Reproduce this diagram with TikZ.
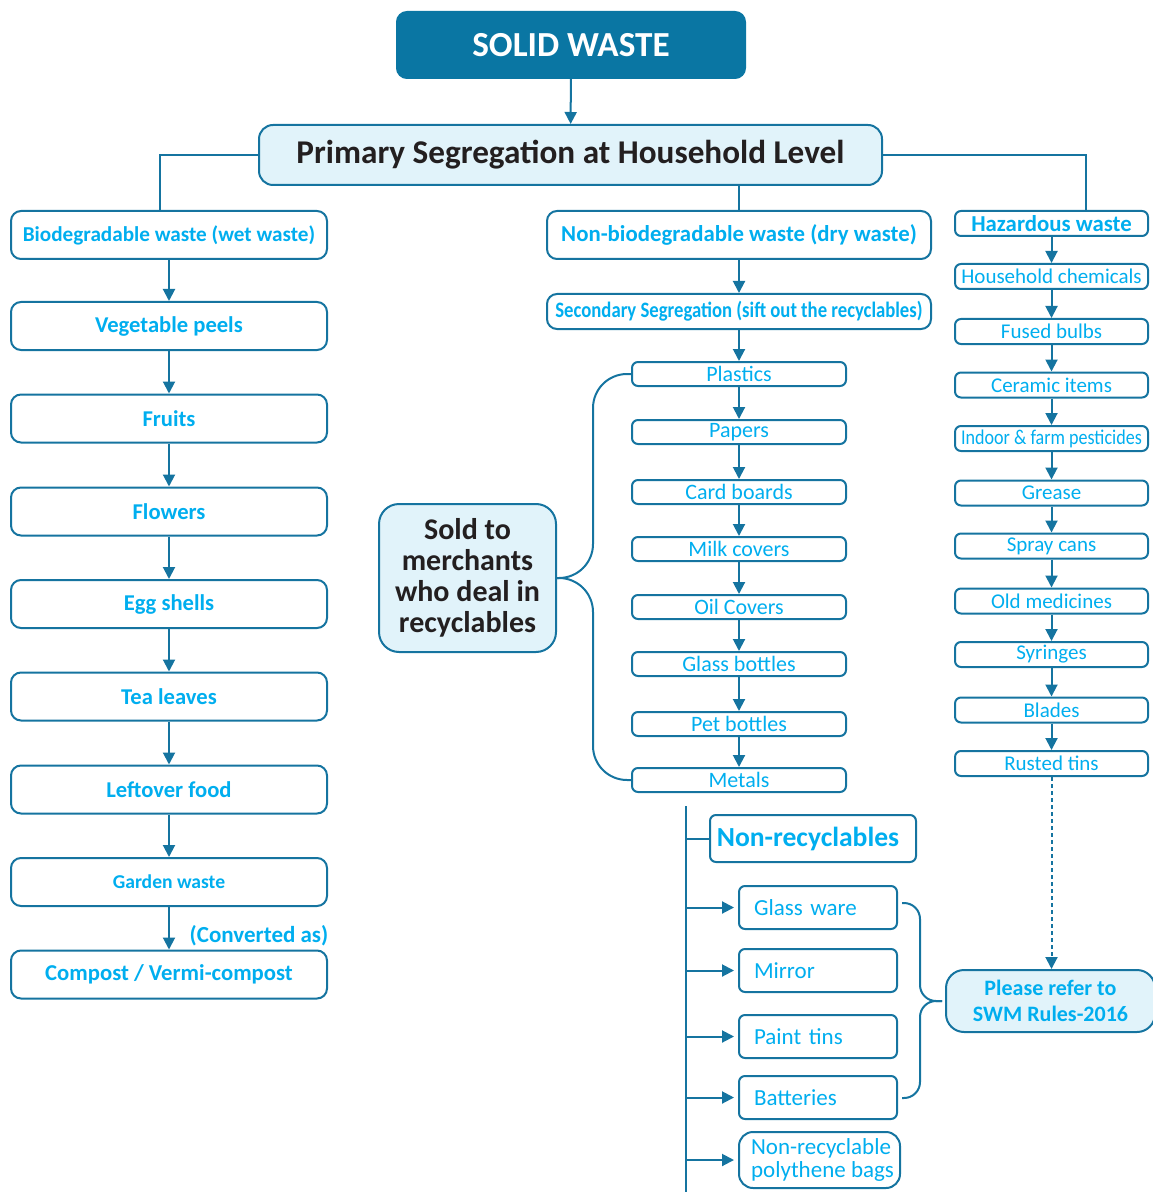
\documentclass[tikz,border=0pt]{standalone}
\usepackage{fontspec}
\setmainfont{Carlito}
\usetikzlibrary{arrows.meta}
\definecolor{lc}{HTML}{1574A0}
\definecolor{tc}{HTML}{00AEEF}
\definecolor{lf}{HTML}{E1F3FA}
\definecolor{tf}{HTML}{0A76A3}
\definecolor{dk}{HTML}{231F20}
\tikzset{
  box/.style={draw=lc, line width=1pt, rounded corners=5pt, fill=white, text=tc, inner sep=0pt, align=center},
  lb/.style={box, minimum width=158pt, minimum height=24pt, font=\bfseries\fontsize{11.3}{13}\selectfont},
  rb/.style={box, minimum width=107pt, minimum height=12pt, rounded corners=3pt, font=\fontsize{11}{12}\selectfont},
  hb/.style={box, minimum width=96.5pt, minimum height=12.5pt, rounded corners=3pt, font=\fontsize{10.5}{12}\selectfont},
  nb/.style={box, minimum width=79pt, minimum height=21.5pt, text width=64pt, align=left, inner xsep=7.5pt, rounded corners=3pt, font=\fontsize{11.5}{12}\selectfont},
  lbl/.style={draw=none, fill=none},
  arr/.style={-{Triangle[length=6pt,width=6pt]}, draw=lc, line width=1pt},
  ln/.style={draw=lc, line width=1pt},
}
\begin{document}
\begin{tikzpicture}[x=0.5pt,y=-0.5pt]
\useasboundingbox (0,0) rectangle (1152,1192);
% top
\node[box, fill=tf, draw=tf, text=white, minimum width=174pt, minimum height=33pt, font=\bfseries\fontsize{17.6}{20}\selectfont] (title) at (571,45) {SOLID WASTE};
\node[box, fill=lf, text=dk, minimum width=311.5pt, minimum height=30pt, rounded corners=7pt, font=\bfseries\fontsize{16.6}{18}\selectfont] (prim) at (570.5,155) {Primary Segregation at Household Level};
% left column
\node[lb, font=\bfseries\fontsize{10.6}{13}\selectfont] (bio) at (169,235) {Biodegradable waste (wet waste)};
\node[lb] (veg) at (169,326) {Vegetable peels};
\node[lb] (fru) at (169,418.5) {Fruits};
\node[lb] (flo) at (169,511.5) {Flowers};
\node[lb] (egg) at (169,604) {Egg shells};
\node[lb] (tea) at (169,696.5) {Tea leaves};
\node[lb] (lef) at (169,789.5) {Leftover food};
\node[lb, font=\bfseries\fontsize{9.8}{12}\selectfont] (gar) at (169,882) {Garden waste};
\node[lb, font=\bfseries\fontsize{11.35}{13}\selectfont] (com) at (169,974.5) {Compost / Vermi-compost};
\node[lbl, text=tc, font=\bfseries\fontsize{11.5}{12}\selectfont] (conv) at (259,936) {(Converted as)};
% middle column
\node[lb, minimum width=192pt, font=\bfseries\fontsize{11.4}{13}\selectfont] (nbio) at (739,235) {Non-biodegradable waste (dry waste)};
\node[lb, minimum width=192pt, minimum height=17.5pt, font=\bfseries\fontsize{11}{13}\selectfont] (sec) at (739,311.5) {\scalebox{0.85}[1]{Secondary Segregation (sift out the recyclables)}};
\node[rb] (pla) at (739,374) {Plastics};
\node[rb] (pap) at (739,432) {Papers};
\node[rb] (car) at (739,492) {Card boards};
\node[rb] (mil) at (739,549) {Milk covers};
\node[rb] (oil) at (739,607) {Oil Covers};
\node[rb] (gla) at (739,664) {Glass bottles};
\node[rb] (pet) at (739,724) {Pet bottles};
\node[rb] (met) at (739,780) {Metals};
\node[box, fill=lf, text=dk, minimum width=88.5pt, minimum height=74pt, rounded corners=10pt, font=\bfseries\fontsize{15}{15.5}\selectfont] (sold) at (467.5,578) {Sold to\\merchants\\who deal in\\recyclables};
% hazardous column
\node[hb, font=\bfseries\fontsize{11.4}{12}\selectfont] (haz) at (1051.5,223.5) {Hazardous waste};
\node[hb] (hh) at (1051.5,276.5) {Household chemicals};
\node[hb] (fb) at (1051.5,331.5) {Fused bulbs};
\node[hb] (ci) at (1051.5,385) {Ceramic items};
\node[hb] (ip) at (1051.5,438.5) {\scalebox{0.86}[1]{Indoor \& farm pesticides}};
\node[hb] (gr) at (1051.5,493) {Grease};
\node[hb] (sc) at (1051.5,546) {Spray cans};
\node[hb] (om) at (1051.5,601) {Old medicines};
\node[hb] (sy) at (1051.5,654.5) {Syringes};
\node[hb] (bl) at (1051.5,710) {Blades};
\node[hb] (rt) at (1051.5,763.5) {Rusted tins};
% non-recyclables
\node[box, minimum width=103pt, minimum height=23.5pt, rounded corners=3pt, font=\bfseries\fontsize{13.8}{15}\selectfont] (nrec) at (813,838.5) {\hspace*{-5pt}Non-recyclables};
\node[nb] (gw) at (818,907.5) {Glass ware};
\node[nb] (mir) at (818,970.5) {Mirror};
\node[nb] (pt) at (818,1036.5) {Paint tins};
\node[nb] (bat) at (818,1097.5) {Batteries};
\node[box, minimum width=80.5pt, minimum height=28pt, align=left, rounded corners=7pt, font=\fontsize{11.5}{11.5}\selectfont] (poly) at (819.5,1160) {\hspace*{3pt}Non-recyclable\\\hspace*{3pt}polythene bags};
\node[box, fill=lf, minimum width=104.5pt, minimum height=31pt, rounded corners=9pt, font=\bfseries\fontsize{11}{13}\selectfont] (ref) at (1050.5,1001) {Please refer to\\SWM Rules-2016};
% coordinates
\coordinate (bj) at (593,578);
\coordinate (rj) at (920,1001);
\coordinate (rtip) at (942,1001);
\coordinate (gws) at (902,903);
\coordinate (bats) at (902,1098);
\coordinate (vtop) at (686,806);
\coordinate (vbot) at (686,1192);
% connectors
\draw[arr] (title) -- (prim);
\draw[ln] (prim.west) -| ([xshift=-4.5pt]bio.north);
\draw[ln] (prim.east) -| ([xshift=17pt]haz.north);
\draw[ln] (nbio.north |- prim.south) -- (nbio.north);
\foreach \a/\b in {bio/veg,veg/fru,fru/flo,flo/egg,egg/tea,tea/lef,lef/gar,gar/com,
  nbio/sec,sec/pla,pla/pap,pap/car,car/mil,mil/oil,oil/gla,gla/pet,pet/met,
  haz/hh,hh/fb,fb/ci,ci/ip,ip/gr,gr/sc,sc/om,om/sy,sy/bl,bl/rt}
  \draw[arr] (\a) -- (\b);
\draw[arr, dash pattern=on 2pt off 1.5pt] (rt.south) -- (rt.south |- ref.north);
\draw[ln, rounded corners=17pt] (pla.west) -| (bj) -- (sold.east);
\draw[ln, rounded corners=17pt] (met.west) -| (bj) -- (sold.east);
\draw[ln, rounded corners=8pt] (gws) -| (rj) -- (rtip);
\draw[ln, rounded corners=8pt] (bats) -| (rj) -- (rtip);
\draw[ln] (vtop) -- (vbot);
\draw[ln] (vtop |- nrec.west) -- (nrec.west);
\foreach \n in {gw,mir,pt,bat,poly}
  \draw[arr] (vtop |- \n.west) -- ([xshift=-2pt]\n.west);
\end{tikzpicture}
\end{document}
